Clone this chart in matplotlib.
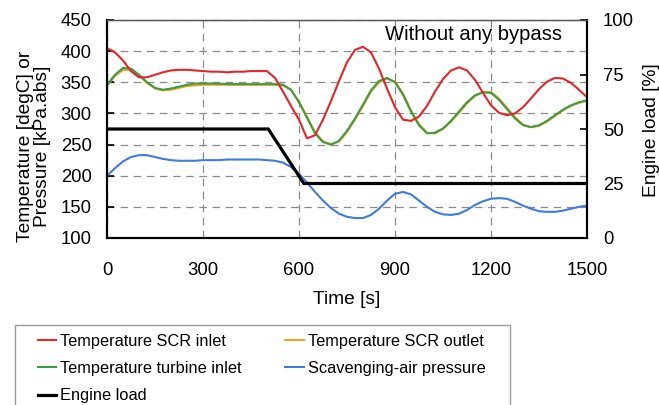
import matplotlib
matplotlib.use("Agg")
import matplotlib.pyplot as plt
from matplotlib.lines import Line2D
from matplotlib.patches import Rectangle

plt.rcParams['font.family'] = ['Liberation Sans', 'DejaVu Sans']

time = list(range(0, 1501, 25))

scr_inlet = [405, 398, 385, 368, 358, 358, 362, 366, 369, 370, 370, 369, 368, 367, 367, 366,
             367, 367, 368, 368, 368, 357, 335, 312, 290, 260, 265, 290, 320, 352, 382, 402,
             407, 398, 372, 340, 310, 290, 288, 295, 312, 335, 355, 369, 374, 369, 354, 333,
             313, 301, 297, 300, 310, 324, 339, 351, 357, 356, 349, 338, 326]

turbine_inlet = [345, 362, 373, 372, 362, 350, 341, 338, 340, 343, 346, 348, 348, 348, 348, 347,
                 347, 347, 347, 347, 347, 347, 346, 338, 318, 293, 268, 254, 250, 256, 272, 292,
                 314, 337, 352, 357, 350, 330, 303, 281, 268, 269, 276, 288, 303, 318, 329, 334,
                 333, 322, 307, 292, 281, 278, 281, 288, 297, 306, 313, 318, 321]

scr_outlet = [345, 360, 370, 370, 361, 349, 340, 337, 338, 341, 344, 345, 346, 346, 346, 346,
              346, 346, 346, 346, 346, 346, 345, 338, 319, 295, 270, 255, 250, 255, 270, 290,
              312, 335, 350, 356, 351, 332, 305, 283, 269, 268, 275, 287, 301, 316, 328, 334,
              334, 324, 309, 294, 282, 278, 280, 287, 296, 305, 312, 317, 320]

scav_pressure = [200, 212, 223, 230, 233, 233, 230, 227, 225, 224, 224, 224, 225, 225, 225, 226,
                 226, 226, 226, 226, 225, 224, 221, 214, 203, 189, 174, 160, 148, 139, 134, 132,
                 132, 137, 147, 160, 171, 174, 170, 160, 150, 142, 138, 137, 139, 145, 153, 159,
                 163, 164, 163, 158, 152, 147, 143, 142, 142, 144, 147, 150, 152]

load_time = [0, 504, 615, 1500]
engine_load = [50, 50, 25, 25]

x_ticks = [0, 300, 600, 900, 1200, 1500]
y_ticks = [100, 150, 200, 250, 300, 350, 400, 450]
y2_ticks = [0, 25, 50, 75, 100]

C_RED = '#e4262a'
C_GREEN = '#3f9a40'
C_ORANGE = '#f0a424'
C_BLUE = '#3f7be0'

W, H = 659, 405
fig = plt.figure(figsize=(W/100, H/100), dpi=100)
ax = fig.add_axes([107/W, 1-238/H, 480/W, 218/H])
ax2 = ax.twinx()

ax.plot(time, scr_outlet, color=C_ORANGE, lw=1.5, zorder=3)
ax.plot(time, turbine_inlet, color=C_GREEN, lw=1.5, zorder=4)
ax.plot(time, scr_inlet, color=C_RED, lw=1.5, zorder=5)
ax.plot(time, scav_pressure, color=C_BLUE, lw=1.5, zorder=5)
ax2.plot(load_time, engine_load, color='black', lw=2.3)

ax.set_xlim(0, 1500)
ax.set_ylim(100, 450)
ax2.set_ylim(0, 100)
ax.set_xticks(x_ticks)
ax.set_yticks(y_ticks)
ax2.set_yticks(y2_ticks)

ax.grid(True, color='#8a8a8a', ls=(0, (6, 4.5)), lw=0.9)
ax.set_axisbelow(True)

ax.tick_params(axis='x', length=0, labelsize=13.3, pad=17)
ax.tick_params(axis='y', direction='in', length=5, width=1.2, labelsize=13.3, pad=11)
ax2.tick_params(axis='y', direction='in', length=5, width=1.2, labelsize=13.3, pad=11.5)

for a in (ax, ax2):
    a.spines['top'].set_color('#555555')
    a.spines['top'].set_linewidth(0.9)
    for s in ('left', 'bottom', 'right'):
        a.spines[s].set_linewidth(1.5)
        a.spines[s].set_color('black')

fig.text(347/W, 1-299/H, 'Time [s]', fontsize=13.8, ha='center', va='center')
fig.text(34/W, 1-146/H, 'Temperature [degC] or\nPressure [kPa.abs]', fontsize=13.8,
         rotation=90, ha='center', va='center', multialignment='center', linespacing=1.0)
fig.text(651/W, 1-130/H, 'Engine load [%]', fontsize=13.8, rotation=90,
         ha='center', va='center')

fig.text(385/W, 1-35/H, 'Without any bypass', fontsize=14.6, ha='left', va='center')

handles = [Line2D([], [], color=C_RED, lw=1.5),
           Line2D([], [], color=C_GREEN, lw=1.5),
           Line2D([], [], color='black', lw=2.3),
           Line2D([], [], color=C_ORANGE, lw=1.5),
           Line2D([], [], color=C_BLUE, lw=1.5)]
labels = ['Temperature SCR inlet', 'Temperature turbine inlet', 'Engine load',
          'Temperature SCR outlet', 'Scavenging-air pressure']
fig.patches.append(Rectangle((15/W, 1-412/H), 495/W, 87/H, transform=fig.transFigure,
                             facecolor='white', edgecolor='#9a9a9a', lw=1.0))
leg = fig.legend(handles, labels, loc='upper left', bbox_to_anchor=(31/W, 1-327/H),
                 ncol=2, fontsize=11.8, frameon=False,
                 handlelength=1.15, handletextpad=0.2, columnspacing=2.7, labelspacing=0.76,
                 borderpad=0.4, borderaxespad=0)

fig.savefig('out.png', dpi=100)
